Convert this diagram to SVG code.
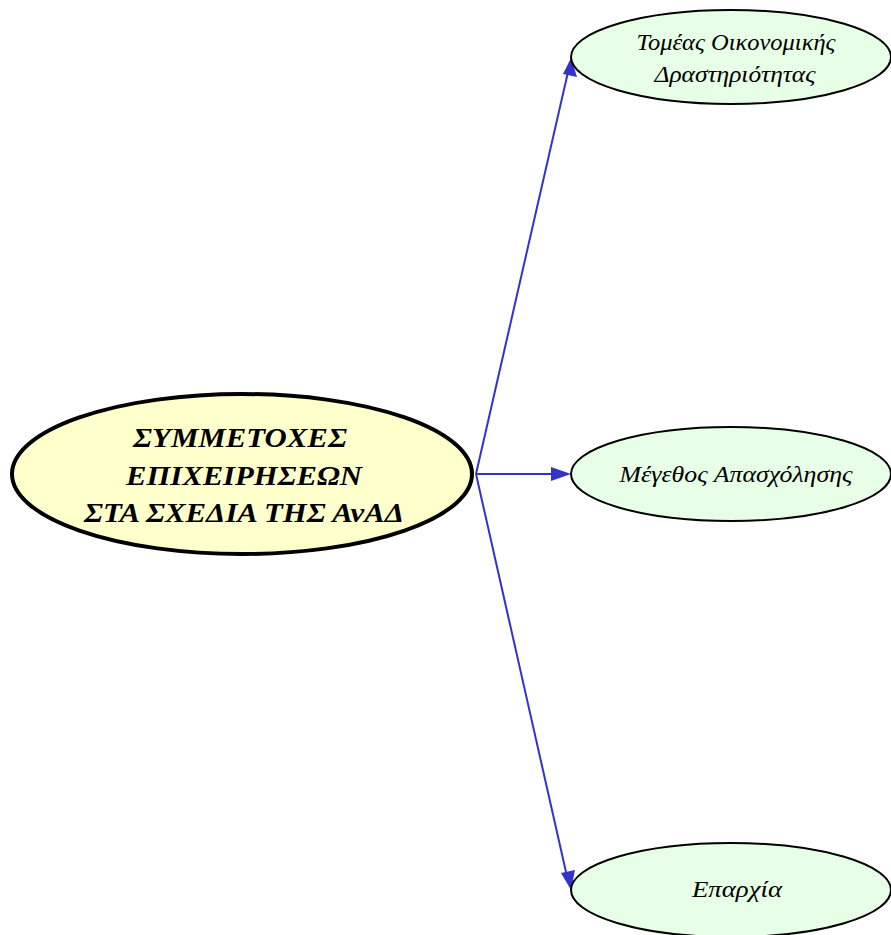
<svg xmlns="http://www.w3.org/2000/svg" width="891" height="935" viewBox="0 0 891 935">
<defs>
<style>
.sub{fill:#e6ffe6;stroke:#000;stroke-width:2}
.t{font-family:"Liberation Serif","DejaVu Serif",serif;font-style:italic;font-size:23px;fill:#000;text-anchor:middle}
.m{font-family:"Liberation Serif","DejaVu Serif",serif;font-style:italic;font-weight:bold;font-size:28px;fill:#000;text-anchor:middle}
.e{stroke:#3333cc;stroke-width:2;fill:none}
.ah{fill:#3333cc}
</style>
</defs>
<rect width="891" height="935" fill="#fff"/>
<g id="connectors">
<line class="e" x1="476" y1="474" x2="568" y2="72"/>
<polygon class="ah" points="571,58 577,77 563,74"/>
<line class="e" x1="476" y1="474" x2="552" y2="474"/>
<polygon class="ah" points="571,474 551,467 551,481"/>
<line class="e" x1="476" y1="474" x2="566" y2="872"/>
<polygon class="ah" points="571,890 561,873 575,870"/>
</g>
<g id="main">
<ellipse cx="242" cy="474" rx="230" ry="80" fill="#ffffcc" stroke="#000" stroke-width="4"/>
<text class="m" x="240" y="447" textLength="214" lengthAdjust="spacingAndGlyphs">ΣΥΜΜΕΤΟΧΕΣ</text>
<text class="m" x="244" y="485" textLength="236" lengthAdjust="spacingAndGlyphs">ΕΠΙΧΕΙΡΗΣΕΩΝ</text>
<text class="m" x="244" y="522" textLength="320" lengthAdjust="spacingAndGlyphs">ΣΤΑ ΣΧΕΔΙΑ ΤΗΣ ΑνΑΔ</text>
</g>
<g id="n1">
<ellipse class="sub" cx="731" cy="57" rx="160" ry="47"/>
<text class="t" x="736" y="50" textLength="199" lengthAdjust="spacingAndGlyphs">Τομέας Οικονομικής</text>
<text class="t" x="735" y="82" textLength="161" lengthAdjust="spacingAndGlyphs">Δραστηριότητας</text>
</g>
<g id="n2">
<ellipse class="sub" cx="731" cy="474" rx="160" ry="47"/>
<text class="t" x="736" y="482" textLength="233" lengthAdjust="spacingAndGlyphs">Μέγεθος Απασχόλησης</text>
</g>
<g id="n3">
<ellipse class="sub" cx="731" cy="890" rx="160" ry="47"/>
<text class="t" x="737" y="897" textLength="90" lengthAdjust="spacingAndGlyphs">Επαρχία</text>
</g>
</svg>
